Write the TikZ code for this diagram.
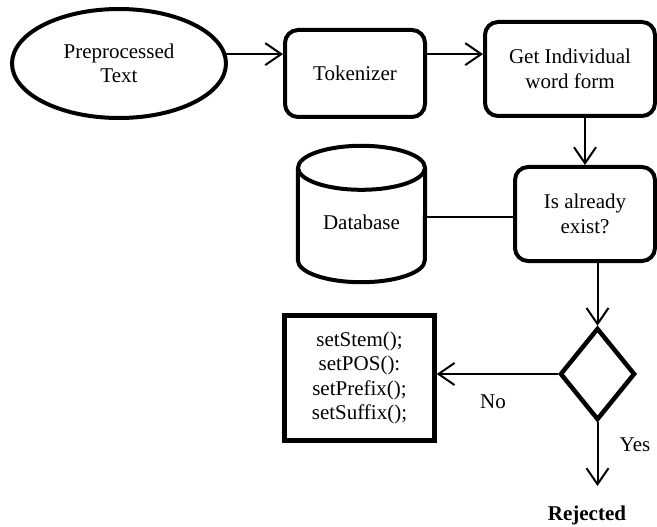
\documentclass[tikz,border=0pt]{standalone}
\usepackage{fontspec}
\setmainfont{Liberation Serif}
\usetikzlibrary{shapes.geometric,arrows.meta,calc}
\begin{document}
\begin{tikzpicture}[x=1pt,y=1pt,
  txt/.style={font=\fontsize{21}{24.5}\selectfont, align=center, text=black},
  rbox/.style={txt, draw, line width=4pt, rounded corners=13pt, inner sep=0pt},
  plainbox/.style={txt, draw, line width=4.5pt, inner sep=0pt},
  oval/.style={txt, draw, ellipse, line width=4pt, inner sep=0pt},
  dia/.style={draw, diamond, line width=4.5pt, inner sep=0pt},
  conn/.style={line width=2pt},
  arr/.style={conn, -{Straight Barb[length=16pt,width=22pt]}},
  lbl/.style={txt}
]
\useasboundingbox (0,0) rectangle (657,-527);

\node[oval, minimum width=214pt, minimum height=109pt] (pre) at (119,-63.5) {Preprocessed\\Text};
\node[rbox, minimum width=140pt, minimum height=87pt] (tok) at (355,-73.5) {Tokenizer};
\node[rbox, minimum width=170pt, minimum height=94pt] (gi) at (570,-69) {Get Individual\\word form};
\node[rbox, minimum width=140pt, minimum height=94pt] (ex) at (585,-214) {Is already\\exist?};

% database cylinder
\node[minimum width=127pt, minimum height=136pt, inner sep=0pt] (db) at (361.5,-214) {};
\node[txt] (dbt) at (361.5,-222) {Database};
\draw[line width=4pt] ($(db.north)+(0,-22)$) ellipse [x radius=63.5, y radius=22];
\draw[line width=4pt] ($(db.north west)+(0,-22)$) -- ($(db.south west)+(0,22)$)
   arc[start angle=180, end angle=360, x radius=63.5, y radius=22]
   -- ($(db.north east)+(0,-22)$);

\node[plainbox, minimum width=150pt, minimum height=125pt] (st) at (359.5,-378)
  {setStem();\\setPOS():\\setPrefix();\\setSuffix();};
\node[dia, minimum width=75pt, minimum height=92pt] (dm) at (597.5,-374) {};

\node[lbl] (no) at (493,-402) {No};
\node[lbl] (yes) at (635,-445) {Yes};
\node[lbl, font=\fontsize{21}{24.5}\selectfont\bfseries] (rej) at (587,-515) {Rejected};
\coordinate (rejtop) at (597.5,-486);

\draw[arr] (pre.5) -- (pre.5 -| tok.west);
\draw[arr] (tok.east |- pre.5) -- (gi.west |- pre.5);
\draw[arr] (gi.south -| ex.north) -- (ex.north);
\draw[conn] (db.east |- 0,-217) -- (ex.west |- 0,-217);
\draw[arr] (ex.south -| dm.north) -- (dm.north);
\draw[arr] (dm.west) -- (dm.west -| st.east);
\draw[arr] (dm.south) -- (rejtop);
\end{tikzpicture}
\end{document}
